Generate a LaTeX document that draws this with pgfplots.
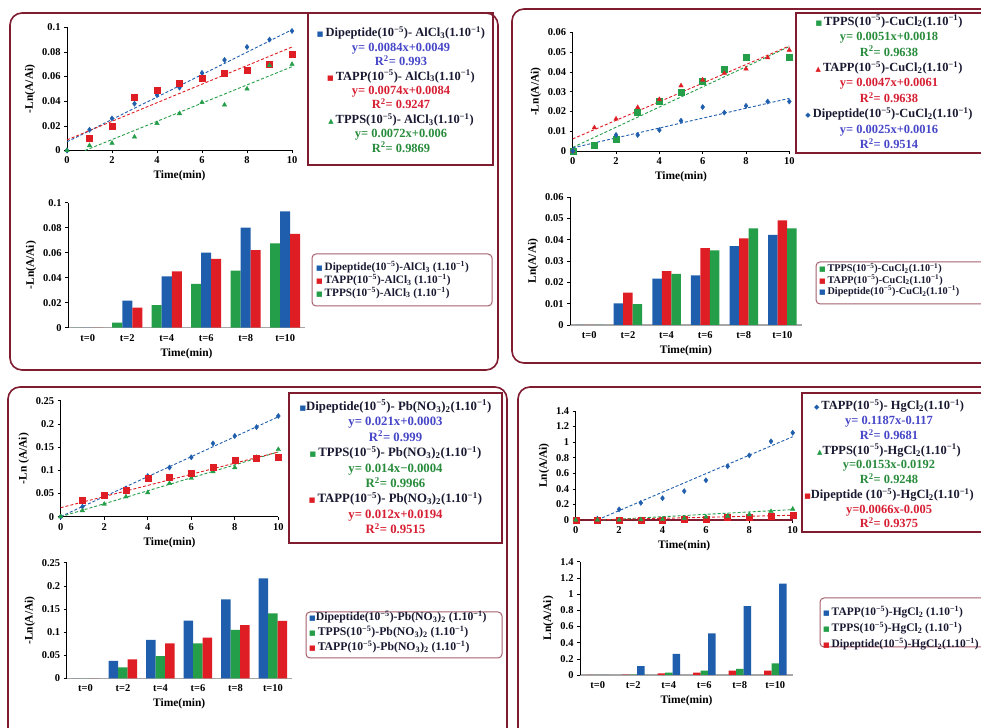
\documentclass[border=0pt]{standalone}
\usepackage{fontspec}
\setmainfont{Liberation Serif}
\newfontfamily\dejavu{DejaVu Sans}
\usepackage{pgfplots}
\pgfplotsset{compat=1.18}
\definecolor{cblue}{RGB}{31,94,173}
\definecolor{cred}{RGB}{222,30,36}
\definecolor{cgreen}{RGB}{36,158,72}
\definecolor{maroon}{RGB}{128,28,48}
\definecolor{tblue}{RGB}{70,70,200}
\definecolor{tred}{RGB}{215,30,50}
\definecolor{tgreen}{RGB}{40,140,60}
\definecolor{head}{RGB}{25,25,50}
\pgfplotsset{
 common/.style={scale only axis, anchor=south west, clip=false,
   axis x line*=bottom, axis y line*=left,
   axis line style={black, line width=0.8bp},
   tick align=outside, major tick length=3bp, tick style={black, line width=0.6bp},
   /pgf/number format/assume math mode=true,
   tick label style={font=\bfseries\fontsize{10.5}{11}\selectfont},
   yticklabel style={/pgf/number format/fixed, /pgf/number format/precision=3},
   scaled y ticks=false,
   label style={font=\bfseries\fontsize{11.5}{12}\selectfont},
   xlabel={Time(min)},
 },
 mysc/.style={common, xmin=0, xmax=10, xtick={0,2,4,6,8,10}},
 mybar/.style={common, ybar=0pt, xmin=-0.5, xmax=5.5, xtick={0,1,2,3,4,5},
   xticklabels={t=0,t=2,t=4,t=6,t=8,t=10}, every x tick/.append style={draw=none},
   x axis line style={gray!70, line width=1.2bp}, ymin=0},
 dot/.style={only marks, mark size=2.6bp},
 trend/.style={line width=0.9bp, dash pattern=on 3bp off 2bp, mark=none},
}
\newcommand{\sq}[1]{\textcolor{#1}{{\dejavu\fontsize{7}{7}\selectfont ■}}}
\newcommand{\tri}[1]{\textcolor{#1}{{\dejavu\fontsize{7}{7}\selectfont ▲}}}
\newcommand{\dia}[1]{\textcolor{#1}{{\dejavu\fontsize{7}{7}\selectfont ◆}}}
\newcommand{\sps}[1]{\textsuperscript{#1}}
\newcommand{\sbs}[1]{\textsubscript{#1}}
\begin{document}
\begin{tikzpicture}[x=1bp,y=1bp]
\useasboundingbox (0,0) rectangle (981,728);
\clip (0,0) rectangle (981,728);
\fill[white] (0,0) rectangle (981,728);
% frames
\draw[maroon, line width=1.6bp, rounded corners=12bp] (10,715) rectangle (498,358);
\draw[maroon, line width=1.6bp, rounded corners=12bp] (512,719) rectangle (1010,365);
\draw[maroon, line width=1.6bp, rounded corners=12bp] (8,341) rectangle (507,-20);
\draw[maroon, line width=1.6bp, rounded corners=12bp] (518,341) rectangle (1010,-20);

% ---------------- Panel 1 scatter
\begin{axis}[mysc, at={(67bp,577.5bp)}, width=225bp, height=123.2bp, ymin=0, ymax=0.1,
  ytick={0,0.02,0.04,0.06,0.08,0.1}, ylabel={-Ln(A/Ai)}]
\addplot[trend, cblue] coordinates {(0,0.007)(10,0.098)};
\addplot[trend, cred] coordinates {(0,0.0086)(10,0.084)};
\addplot[trend, cgreen] coordinates {(0.8,0)(10,0.068)};
\addplot[dot, mark=diamond*, cblue] coordinates {(0,0)(1,0.0168)(2,0.026)(3,0.038)(4,0.045)(5,0.051)(6,0.063)(7,0.0735)(8,0.084)(9,0.090)(10,0.097)};
\addplot[dot, mark=square*, cred, mark size=3bp] coordinates {(1,0.010)(2,0.020)(3,0.043)(4,0.0486)(5,0.0546)(6,0.0586)(7,0.063)(8,0.065)(9,0.070)(10,0.078)};
\addplot[dot, mark=triangle*, cgreen] coordinates {(0,0)(1,0.004)(2,0.006)(3,0.011)(4,0.022)(5,0.030)(6,0.039)(7,0.037)(8,0.050)(9,0.069)(10,0.070)};
\end{axis}
\draw[maroon, line width=1.8bp] (308,715) rectangle (493,563);
\node[align=center, text=head, inner sep=0, font=\bfseries\fontsize{12.5}{14.5}\selectfont] at (401,638.5) {%
\sq{cblue}\,Dipeptide(10\sps{−5})- AlCl\sbs{3}(1.10\sps{−1})\\
\textcolor{tblue}{y= 0.0084x+0.0049}\\
\textcolor{tblue}{R\sps{2}= 0.993}\\
\sq{cred}\,TAPP(10\sps{−5})- AlCl\sbs{3}(1.10\sps{−1})\\
\textcolor{tred}{y= 0.0074x+0.0084}\\
\textcolor{tred}{R\sps{2}= 0.9247}\\
\tri{cgreen}\,TPPS(10\sps{−5})- AlCl\sbs{3}(1.10\sps{−1})\\
\textcolor{tgreen}{y= 0.0072x+0.006}\\
\textcolor{tgreen}{R\sps{2}= 0.9869}};

% ---------------- Panel 1 bars
\begin{axis}[mybar, at={(68bp,400.3bp)}, width=237bp, height=125bp, ymax=0.1, bar width=10bp,
  ytick={0,0.02,0.04,0.06,0.08,0.1}, ylabel={-Ln(A/Ai)}]
\addplot[fill=cgreen, draw=none] coordinates {(0,0)(1,0.004)(2,0.018)(3,0.035)(4,0.0456)(5,0.0675)};
\addplot[fill=cblue, draw=none] coordinates {(0,0)(1,0.0216)(2,0.041)(3,0.060)(4,0.080)(5,0.093)};
\addplot[fill=cred, draw=none] coordinates {(0,0)(1,0.016)(2,0.045)(3,0.055)(4,0.062)(5,0.075)};
\end{axis}
\draw[maroon!70, line width=1bp, rounded corners=4bp] (312,474) rectangle (492,422);
\node[anchor=west, align=left, text=head, inner sep=0, font=\bfseries\fontsize{11.3}{13}\selectfont] at (316,448) {%
\sq{cblue}\,Dipeptide(10\sps{−5})-AlCl\sbs{3} (1.10\sps{−1})\\
\sq{cred}\,TAPP(10\sps{−5})-AlCl\sbs{3} (1.10\sps{−1})\\
\sq{cgreen}\,TPPS(10\sps{−5})-AlCl\sbs{3} (1.10\sps{−1})};

% ---------------- Panel 2 scatter
\begin{axis}[mysc, at={(572.7bp,577bp)}, width=216.6bp, height=118.7bp, ymin=0, ymax=0.06,
  ytick={0,0.01,0.02,0.03,0.04,0.05,0.06}, ylabel={-Ln(A/Ai)}]
\addplot[trend, cgreen] coordinates {(0,0.0018)(10,0.0528)};
\addplot[trend, cred] coordinates {(0,0.0061)(10,0.0531)};
\addplot[trend, cblue] coordinates {(0,0.0016)(10,0.0266)};
\addplot[dot, mark=square*, cgreen, mark size=3bp] coordinates {(0,0)(1,0.0027)(2,0.0059)(3,0.0196)(4,0.025)(5,0.0295)(6,0.0354)(7,0.0413)(8,0.0474)(10,0.0474)};
\addplot[dot, mark=triangle*, cred] coordinates {(0,0)(1,0.0118)(2,0.0162)(3,0.022)(4,0.0261)(5,0.033)(6,0.0359)(7,0.0393)(8,0.0415)(9,0.0472)(10,0.051)};
\addplot[dot, mark=diamond*, cblue] coordinates {(0,0)(2,0.0081)(3,0.0081)(4,0.0106)(5,0.0153)(6,0.0222)(7,0.0194)(8,0.0228)(9,0.025)(10,0.025)};
\end{axis}
\draw[maroon, line width=1.8bp] (796,715) rectangle (1000,575);
\node[align=center, text=head, inner sep=0, font=\bfseries\fontsize{12.5}{15.5}\selectfont] at (889,646) {%
\sq{cgreen}\,TPPS(10\sps{−5})-CuCl\sbs{2}(1.10\sps{−1})\\
\textcolor{tgreen}{y= 0.0051x+0.0018}\\
\textcolor{tgreen}{R\sps{2}= 0.9638}\\
\tri{cred}\,TAPP(10\sps{−5})-CuCl\sbs{2}(1.10\sps{−1})\\
\textcolor{tred}{y= 0.0047x+0.0061}\\
\textcolor{tred}{R\sps{2}= 0.9638}\\
\dia{cblue}\,Dipeptide(10\sps{−5})-CuCl\sbs{2}(1.10\sps{−1})\\
\textcolor{tblue}{y= 0.0025x+0.0016}\\
\textcolor{tblue}{R\sps{2}= 0.9514}};

% ---------------- Panel 2 bars
\begin{axis}[mybar, at={(570bp,403bp)}, width=231.7bp, height=128bp, ymax=0.06, bar width=9.5bp,
  ytick={0,0.01,0.02,0.03,0.04,0.05,0.06}, ylabel={Ln(A/Ai)}]
\addplot[fill=cblue, draw=none] coordinates {(0,0)(1,0.0101)(2,0.0217)(3,0.0233)(4,0.037)(5,0.0422)};
\addplot[fill=cred, draw=none] coordinates {(0,0)(1,0.0152)(2,0.0253)(3,0.036)(4,0.0406)(5,0.049)};
\addplot[fill=cgreen, draw=none] coordinates {(0,0)(1,0.0098)(2,0.024)(3,0.035)(4,0.0453)(5,0.0453)};
\end{axis}
\draw[maroon!70, line width=1bp, rounded corners=4bp] (816,466) rectangle (1000,424);
\node[anchor=west, align=left, text=head, inner sep=0, font=\bfseries\fontsize{10.3}{11.5}\selectfont] at (819,448) {%
\sq{cgreen}\,TPPS(10\sps{−5})-CuCl\sbs{2}(1.10\sps{−1})\\
\sq{cred}\,TAPP(10\sps{−5})-CuCl\sbs{2}(1.10\sps{−1})\\
\sq{cblue}\,Dipeptide(10\sps{−5})-CuCl\sbs{2}(1.10\sps{−1})};

% ---------------- Panel 3 scatter
\begin{axis}[mysc, at={(60.7bp,211.3bp)}, width=217.6bp, height=116bp, ymin=0, ymax=0.25,
  ytick={0,0.05,0.1,0.15,0.2,0.25}, ylabel={-Ln (A/Ai)}]
\addplot[trend, cblue] coordinates {(0,0.0003)(10,0.2153)};
\addplot[trend, cgreen] coordinates {(0,0)(10,0.1396)};
\addplot[trend, cred] coordinates {(0,0.0194)(10,0.1394)};
\addplot[dot, mark=diamond*, cblue] coordinates {(0,0)(1,0.0216)(2,0.0467)(3,0.061)(4,0.0876)(5,0.106)(6,0.128)(7,0.158)(8,0.174)(9,0.193)(10,0.217)};
\addplot[dot, mark=triangle*, cgreen] coordinates {(0,0)(1,0.013)(2,0.027)(3,0.043)(4,0.052)(5,0.072)(6,0.083)(7,0.097)(8,0.106)(9,0.128)(10,0.145)};
\addplot[dot, mark=square*, cred, mark size=3bp] coordinates {(1,0.0345)(2,0.0467)(3,0.0575)(4,0.083)(5,0.086)(6,0.093)(7,0.106)(8,0.121)(9,0.126)(10,0.129)};
\end{axis}
\draw[maroon, line width=1.8bp] (289,335) rectangle (502,185);
\node[align=center, text=head, inner sep=0, font=\bfseries\fontsize{12.8}{15.5}\selectfont] at (395.5,261) {%
\sq{cblue}Dipeptide(10\sps{−5})- Pb(NO\sbs{3})\sbs{2}(1.10\sps{−1})\\
\textcolor{tblue}{y= 0.021x+0.0003}\\
\textcolor{tblue}{R\sps{2}= 0.999}\\
\sq{cgreen}\,TPPS(10\sps{−5})- Pb(NO\sbs{3})\sbs{2}(1.10\sps{−1})\\
\textcolor{tgreen}{y= 0.014x−0.0004}\\
\textcolor{tgreen}{R\sps{2}= 0.9966}\\
\sq{cred}\,TAPP(10\sps{−5})- Pb(NO\sbs{3})\sbs{2}(1.10\sps{−1})\\
\textcolor{tred}{y= 0.012x+0.0194}\\
\textcolor{tred}{R\sps{2}= 0.9515}};

% ---------------- Panel 3 bars
\begin{axis}[mybar, at={(66.7bp,49.7bp)}, width=225bp, height=115.6bp, ymax=0.25, bar width=9.5bp,
  ytick={0,0.05,0.1,0.15,0.2,0.25}, ylabel={-Ln(A/Ai)}]
\addplot[fill=cblue, draw=none] coordinates {(0,0)(1,0.0375)(2,0.083)(3,0.1246)(4,0.1707)(5,0.216)};
\addplot[fill=cgreen, draw=none] coordinates {(0,0)(1,0.0238)(2,0.048)(3,0.0757)(4,0.1045)(5,0.1405)};
\addplot[fill=cred, draw=none] coordinates {(0,0)(1,0.041)(2,0.0757)(3,0.088)(4,0.115)(5,0.124)};
\end{axis}
\draw[maroon!70, line width=1bp, rounded corners=4bp] (306,116) rectangle (502,70);
\node[anchor=west, align=left, text=head, inner sep=0, font=\bfseries\fontsize{11.8}{15}\selectfont] at (309,96) {%
\sq{cblue}Dipeptide(10\sps{−5})-Pb(NO\sbs{3})\sbs{2} (1.10\sps{−1})\\
\sq{cgreen}\,TPPS(10\sps{−5})-Pb(NO\sbs{3})\sbs{2} (1.10\sps{−1})\\
\sq{cred}\,TAPP(10\sps{−5})-Pb(NO\sbs{3})\sbs{2} (1.10\sps{−1})};

% ---------------- Panel 4 scatter
\begin{axis}[mysc, at={(575.7bp,208bp)}, width=217bp, height=109bp, ymin=0, ymax=1.4,
  ytick={0,0.2,0.4,0.6,0.8,1,1.2,1.4}, ylabel={Ln(A/Ai)}, x axis line style={maroon, line width=1.4bp}]
\addplot[trend, cblue] coordinates {(1,0.0017)(10,1.07)};
\addplot[trend, cgreen] coordinates {(1.25,0)(10,0.134)};
\addplot[trend, cred] coordinates {(0.76,0)(10,0.061)};
\addplot[dot, mark=diamond*, cblue] coordinates {(1,0.017)(2,0.136)(3,0.22)(4,0.28)(5,0.37)(6,0.51)(7,0.69)(8,0.83)(9,1.01)(10,1.12)};
\addplot[dot, mark=square*, cred, mark size=3bp] coordinates {(0,0)(1,0)(2,0)(3,0)(4,0)(5,0.01)(6,0.01)(7,0.03)(8,0.04)(9,0.05)(10,0.06)};
\addplot[dot, mark=triangle*, cgreen] coordinates {(0,0)(1,0)(2,0)(3,0.005)(4,0.01)(5,0.02)(6,0.04)(7,0.05)(8,0.07)(9,0.11)(10,0.14)};
\end{axis}
\draw[maroon, line width=1.8bp] (802,335) rectangle (1000,196);
\node[align=center, text=head, inner sep=0, font=\bfseries\fontsize{12.5}{14.8}\selectfont] at (889,264) {%
\dia{cblue}\,TAPP(10\sps{−5})- HgCl\sbs{2}(1.10\sps{−1})\\
\textcolor{tblue}{y= 0.1187x-0.117}\\
\textcolor{tblue}{R\sps{2}= 0.9681}\\
\tri{cgreen}TPPS(10\sps{−5})-HgCl\sbs{2}(1.10\sps{−1})\\
\textcolor{tgreen}{y=0.0153x-0.0192}\\
\textcolor{tgreen}{R\sps{2}= 0.9248}\\
\sq{cred}Dipeptide (10\sps{−5})-HgCl\sbs{2}(1.10\sps{−1})\\
\textcolor{tred}{y=0.0066x-0.005}\\
\textcolor{tred}{R\sps{2}= 0.9375}};

% ---------------- Panel 4 bars
\begin{axis}[mybar, at={(580bp,53bp)}, width=213bp, height=113.3bp, ymax=1.4, bar width=7.5bp,
  ytick={0,0.2,0.4,0.6,0.8,1,1.2,1.4}, ylabel={Ln(A/Ai)}]
\addplot[fill=cred, draw=none] coordinates {(0,0)(1,0.005)(2,0.02)(3,0.03)(4,0.055)(5,0.055)};
\addplot[fill=cgreen, draw=none] coordinates {(0,0)(1,0.005)(2,0.03)(3,0.055)(4,0.075)(5,0.145)};
\addplot[fill=cblue, draw=none] coordinates {(0,0)(1,0.11)(2,0.26)(3,0.515)(4,0.85)(5,1.13)};
\end{axis}
\draw[maroon!70, line width=1bp, rounded corners=4bp] (820,130) rectangle (1000,81);
\node[anchor=west, align=left, text=head, inner sep=0, font=\bfseries\fontsize{11.5}{16}\selectfont] at (823,100) {%
\sq{cblue}\,TAPP(10\sps{−5})-HgCl\sbs{2} (1.10\sps{−1})\\
\sq{cgreen}\,TPPS(10\sps{−5})-HgCl\sbs{2} (1.10\sps{−1})\\
\sq{cred}\,Dipeptide(10\sps{−5})-HgCl\sbs{2}(1.10\sps{−1})};
\end{tikzpicture}
\end{document}
